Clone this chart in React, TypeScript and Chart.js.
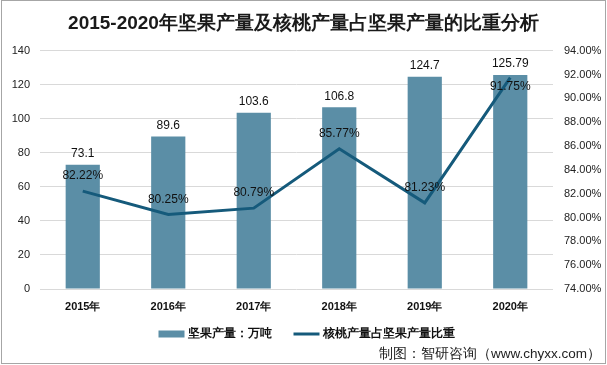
import React, { useEffect, useRef } from "react";
import { Chart, registerables } from "chart.js";

Chart.register(...registerables);

const categories = ["2015年", "2016年", "2017年", "2018年", "2019年", "2020年"];
const nutOutput = [73.1, 89.6, 103.6, 106.8, 124.7, 125.79];
const walnutShare = [82.22, 80.25, 80.79, 85.77, 81.23, 91.75];
const barLabel = "坚果产量：万吨";
const lineLabel = "核桃产量占坚果产量比重";
const titleText = "2015-2020年坚果产量及核桃产量占坚果产量的比重分析";
const sourceText = "制图：智研咨询（www.chyxx.com）";
// label placement for line points: "above" or "below"
const lineLabelPlace = ["above", "above", "above", "above", "above", "below"];

const BAR_COLOR = "#5b8ea6";
const LINE_COLOR = "#155a7b";
const FONT = "'Liberation Sans', Arial, sans-serif";

const extrasPlugin = {
  id: "extras",
  afterDatasetsDraw(chart: any) {
    const ctx = chart.ctx;
    ctx.save();
    ctx.fillStyle = "#111";
    ctx.font = `12px ${FONT}`;
    ctx.textAlign = "center";
    ctx.textBaseline = "bottom";
    const barMeta = chart.getDatasetMeta(0);
    barMeta.data.forEach((el: any, i: number) => {
      ctx.fillText(String(nutOutput[i]), el.x, el.y - 5);
    });
    const lineMeta = chart.getDatasetMeta(1);
    lineMeta.data.forEach((el: any, i: number) => {
      const txt = walnutShare[i].toFixed(2) + "%";
      if (lineLabelPlace[i] === "below") {
        ctx.textBaseline = "top";
        ctx.fillText(txt, el.x, el.y + 3);
      } else {
        ctx.textBaseline = "bottom";
        ctx.fillText(txt, el.x, el.y - 9);
      }
    });
    ctx.restore();
  },
  afterDraw(chart: any) {
    const ctx = chart.ctx;
    const W = chart.width;
    const H = chart.height;
    ctx.save();
    // legend
    const ly = 334;
    ctx.font = `bold 12px ${FONT}`;
    ctx.textBaseline = "middle";
    ctx.textAlign = "left";
    const w1 = ctx.measureText(barLabel).width;
    const w2 = ctx.measureText(lineLabel).width;
    const sym = 26;
    const gap = 3;
    const between = 22;
    const total = sym + gap + w1 + between + sym + gap + w2;
    let x = (W - total) / 2 + 3;
    ctx.fillStyle = BAR_COLOR;
    ctx.fillRect(x, ly - 3.5, sym, 7);
    x += sym + gap;
    ctx.fillStyle = "#111";
    ctx.fillText(barLabel, x, ly);
    x += w1 + between;
    ctx.strokeStyle = LINE_COLOR;
    ctx.lineWidth = 3;
    ctx.beginPath();
    ctx.moveTo(x, ly);
    ctx.lineTo(x + sym, ly);
    ctx.stroke();
    x += sym + gap;
    ctx.fillStyle = "#111";
    ctx.fillText(lineLabel, x, ly);
    // source
    ctx.font = `13.5px ${FONT}`;
    ctx.textAlign = "right";
    ctx.fillStyle = "#222";
    ctx.fillText(sourceText, W - 6, 354);
    // border
    ctx.strokeStyle = "#a6a6a6";
    ctx.lineWidth = 1;
    ctx.strokeRect(1.5, 0.5, W - 3, H - 2);
    ctx.restore();
  },
};

export default function App() {
  const ref = useRef<HTMLCanvasElement>(null);
  useEffect(() => {
    if (!ref.current) return;
    const chart = new Chart(ref.current, {
      data: {
        labels: categories,
        datasets: [
          {
            type: "bar",
            label: barLabel,
            data: nutOutput,
            backgroundColor: BAR_COLOR,
            yAxisID: "y",
            barPercentage: 0.4,
            categoryPercentage: 1,
            order: 2,
          },
          {
            type: "line",
            label: lineLabel,
            data: walnutShare,
            borderColor: LINE_COLOR,
            backgroundColor: LINE_COLOR,
            borderWidth: 3,
            pointRadius: 0,
            tension: 0,
            yAxisID: "y1",
            order: 1,
          },
        ],
      },
      options: {
        responsive: false,
        animation: false,
        layout: { padding: { top: 0, bottom: 0, left: 0, right: 0 } },
        plugins: {
          legend: { display: false },
          tooltip: { enabled: false },
          title: {
            display: true,
            text: titleText,
            color: "#1a1a1a",
            font: { family: FONT, size: 19, weight: "bold" },
            padding: { top: 12, bottom: 16 },
          },
        },
        scales: {
          x: {
            grid: { display: false, drawTicks: false },
            border: { display: false },
            ticks: {
              color: "#111",
              font: { family: FONT, size: 11, weight: "bold" },
              padding: 11,
              maxRotation: 0,
            },
            afterFit(scale: any) {
              scale.height = 76;
            },
          },
          y: {
            position: "left",
            min: 0,
            max: 140,
            ticks: {
              stepSize: 20,
              color: "#222",
              font: { family: FONT, size: 11 },
              padding: 10,
            },
            grid: { color: "#d9d9d9", drawTicks: false },
            border: { display: false },
            afterFit(scale: any) {
              scale.width = 40;
            },
          },
          y1: {
            position: "right",
            min: 74,
            max: 94,
            ticks: {
              stepSize: 2,
              color: "#222",
              font: { family: FONT, size: 11 },
              padding: 11,
              callback: (v: any) => Number(v).toFixed(2) + "%",
            },
            grid: { display: false, drawTicks: false },
            border: { display: false },
            afterFit(scale: any) {
              scale.width = 54;
            },
          },
        },
      },
      plugins: [extrasPlugin],
    } as any);
    return () => chart.destroy();
  }, []);
  return (
    <div style={{ position: "fixed", left: 0, top: 0, width: 607, height: 365, background: "#fff" }}>
      <canvas ref={ref} width={607} height={365} style={{ display: "block" }} />
    </div>
  );
}
